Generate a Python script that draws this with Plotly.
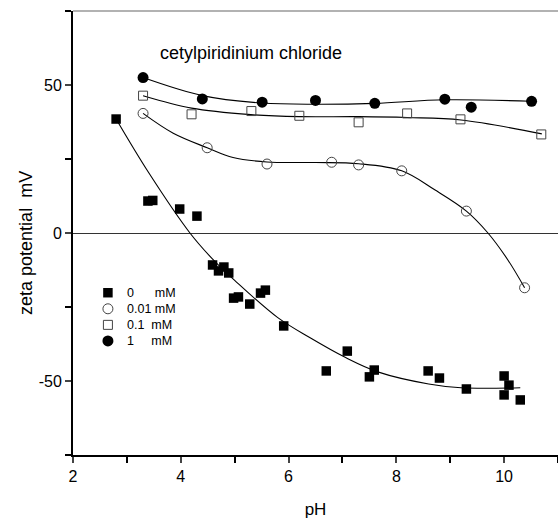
import plotly.graph_objects as go

# --- data: 0 mM (filled squares)
ph_0 = [2.8, 3.39, 3.48, 3.98, 4.3, 4.59, 4.7, 4.8, 4.89, 4.98, 5.07, 5.28, 5.48, 5.57, 5.91,
        6.7, 7.09, 7.5, 7.59, 8.59, 8.8, 9.3, 10.0, 10.0, 10.09, 10.3]
zeta_0 = [38.5, 10.8, 11.0, 8.1, 5.7, -10.8, -12.8, -11.5, -13.5, -22, -21.6, -24, -20.3, -19.3, -31.4,
          -46.6, -39.9, -48.6, -46.3, -46.6, -49, -52.7, -48.3, -54.7, -51.4, -56.4]
# --- 0.01 mM (open circles)
ph_001 = [3.3, 4.49, 5.6, 6.8, 7.3, 8.1, 9.3, 10.38]
zeta_001 = [40.4, 28.8, 23.3, 23.9, 23.0, 21.0, 7.4, -18.5]
# --- 0.1 mM (open squares)
ph_01 = [3.3, 4.2, 5.31, 6.2, 7.3, 8.2, 9.19, 10.69]
zeta_01 = [46.4, 40.1, 41.2, 39.6, 37.4, 40.4, 38.4, 33.3]
# --- 1 mM (filled circles)
ph_1 = [3.3, 4.4, 5.51, 6.5, 7.6, 8.9, 9.39, 10.51]
zeta_1 = [52.5, 45.3, 44.2, 44.8, 43.8, 45.2, 42.5, 44.5]

# --- fitted curves
fit_ph_0 = [2.8, 3.4, 4.17, 4.6, 5.0, 5.8, 6.4, 7.05, 7.67, 8.6, 9.2, 10.3]
fit_zeta_0 = [38.5, 20.5, 0, -9, -16, -28.6, -35.4, -42, -47, -51, -52.3, -52.3]
fit_ph_001 = [3.3, 3.86, 4.49, 4.97, 5.6, 6.5, 7.3, 8.1, 8.72, 9.3, 9.7, 10.07, 10.38]
fit_zeta_001 = [40.4, 33.7, 28.8, 25.5, 24.0, 23.8, 23.4, 21.0, 14.5, 7.4, 0, -9.1, -18.5]
fit_ph_01 = [3.3, 4.2, 5.3, 6.2, 7.3, 8.2, 9.2, 10.7]
fit_zeta_01 = [46.4, 42.2, 40.0, 39.3, 39.3, 39.0, 38.2, 33.5]
fit_ph_1 = [3.3, 4.4, 5.5, 6.5, 7.6, 8.9, 10.5]
fit_zeta_1 = [52.5, 46.4, 43.9, 43.5, 43.8, 45.0, 44.5]

legend_labels = ["0      mM", "0.01 mM", "0.1  mM", "1     mM"]
x_ticks = [2, 4, 6, 8, 10]
y_ticks = [-50, 0, 50]
y_ticktext = ["-50", "0", "50"]

FONT = "Arial, Liberation Sans, sans-serif"

fig = go.Figure()

for fx, fy in [(fit_ph_0, fit_zeta_0), (fit_ph_001, fit_zeta_001), (fit_ph_01, fit_zeta_01), (fit_ph_1, fit_zeta_1)]:
    fig.add_trace(go.Scatter(x=fx, y=fy, mode="lines", line=dict(color="black", width=1.1, shape="spline", smoothing=1.0),
                             showlegend=False, hoverinfo="skip"))

styles = [
    dict(symbol="square", size=9.5, color="black"),
    dict(symbol="circle-open", size=10, color="#444", line=dict(width=1)),
    dict(symbol="square-open", size=9, color="#444", line=dict(width=1)),
    dict(symbol="circle", size=11, color="black"),
]
series = [(ph_0, zeta_0), (ph_001, zeta_001), (ph_01, zeta_01), (ph_1, zeta_1)]
for (sx, sy), st, name in zip(series, styles, legend_labels):
    fig.add_trace(go.Scatter(x=sx, y=sy, mode="markers", name=name, marker=st, showlegend=False))

# hand-made legend drawn on an invisible overlay axis (0..1 = plot area)
leg_x0, leg_y0, leg_step = 0.072, 0.3655, 0.0362
for i, (st, name) in enumerate(zip(styles, legend_labels)):
    yy = leg_y0 - i * leg_step
    fig.add_trace(go.Scatter(x=[leg_x0], y=[yy], mode="markers", marker=st, showlegend=False,
                             xaxis="x2", yaxis="y2", hoverinfo="skip"))
    fig.add_annotation(text=name, xref="paper", yref="paper", x=leg_x0 + 0.035, y=yy, xanchor="left",
                       yanchor="middle", showarrow=False, font=dict(size=12.5, color="black", family=FONT))

fig.add_annotation(text="cetylpiridinium chloride", xref="paper", yref="paper", x=0.175, y=0.906,
                   xanchor="left", yanchor="middle", showarrow=False, font=dict(size=18, color="black", family=FONT))

fig.add_annotation(text="zeta potential  mV", xref="paper", yref="paper", x=-0.097, y=0.4775,
                   xanchor="center", yanchor="middle", textangle=-90, showarrow=False,
                   font=dict(size=18, color="black", family=FONT))

fig.add_shape(type="line", xref="paper", yref="paper", x0=0, x1=1, y0=1, y1=1, line=dict(color="#999", width=1.5))

fig.update_layout(
    width=558, height=522,
    margin=dict(l=73, r=0, t=11, b=67),
    paper_bgcolor="white", plot_bgcolor="white",
    font=dict(family=FONT, color="black", size=16),
    showlegend=False,
    xaxis=dict(range=[2, 11], tickvals=x_ticks, ticks="outside", ticklen=6, tickwidth=1.5,
               showline=True, linecolor="black", linewidth=2, showgrid=False, zeroline=False,
               minor=dict(tickvals=[3, 5, 7, 9, 11], ticks="outside", ticklen=6, tickwidth=1.5, tickcolor="black"),
               title=dict(text="pH", font=dict(size=17), standoff=19), tickfont=dict(size=16)),
    yaxis=dict(range=[-75, 75], tickvals=y_ticks, ticktext=y_ticktext, ticks="outside", ticklen=6, tickwidth=1.5,
               showline=True, linecolor="black", linewidth=2, showgrid=False,
               zeroline=True, zerolinecolor="#333", zerolinewidth=1,
               minor=dict(tickvals=[-75, -25, 25, 75], ticks="outside", ticklen=6, tickwidth=1.5, tickcolor="black"),
               tickfont=dict(size=16)),
    xaxis2=dict(overlaying="x", range=[0, 1], visible=False),
    yaxis2=dict(overlaying="y", range=[0, 1], visible=False),
)

fig.write_html("out.html")
